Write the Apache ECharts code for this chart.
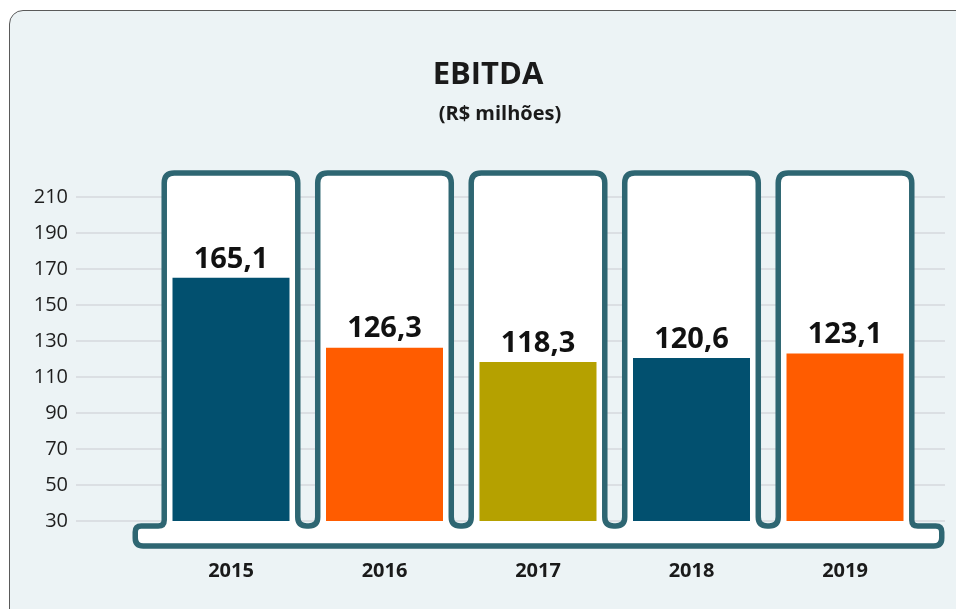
<!DOCTYPE html>
<html>
<head>
<meta charset="utf-8">
<script src="https://cdn.jsdelivr.net/npm/echarts@6/dist/echarts.min.js"></script>
<style>
  html, body { margin: 0; padding: 0; background: #fff; }
  .panel {
    position: absolute; left: 9px; top: 10px; width: 1000px; height: 700px;
    border: 1.5px solid #5a5a5a; border-radius: 14px; background: #ecf3f5;
  }
  #main { position: absolute; left: 0; top: 0; width: 956px; height: 609px; }
</style>
</head>
<body>
<div class="panel"></div>
<div id="main"></div>
<script>
// dados
const years = ['2015', '2016', '2017', '2018', '2019'];
const ebitda = [165.1, 126.3, 118.3, 120.6, 123.1];
const barColors = ['#02506f', '#ff5c00', '#b5a100', '#02506f', '#ff5c00'];
const yMin = 30, yMax = 210, yStep = 20;

const font = 'Open Sans';
const outline = '#2e6672';

// ponto a distancia r de (x,y) na direcao de p
function toward(x, y, p, r) {
  const dx = p[0] - x, dy = p[1] - y;
  const len = Math.sqrt(dx * dx + dy * dy) || 1;
  return [x + dx / len * r, y + dy / len * r];
}
// poligono com cantos arredondados
function roundedPath(pts) {
  const n = pts.length;
  let d = '';
  for (let i = 0; i < n; i++) {
    const [x, y, r] = pts[i];
    const a = toward(x, y, pts[(i - 1 + n) % n], r);
    const b = toward(x, y, pts[(i + 1) % n], r);
    d += (i === 0 ? 'M' : 'L') + a[0] + ' ' + a[1] + ' Q' + x + ' ' + y + ' ' + b[0] + ' ' + b[1] + ' ';
  }
  return d + 'Z';
}

// copos + base
function renderCups(params, api) {
  if (params.dataIndex !== 0) return;
  const cs = params.coordSys;
  const band = api.size([1, 0])[0];
  const half = band * 0.435;
  const top = cs.y - 24;
  const yT = cs.y + cs.height + 5;
  const yB = cs.y + cs.height + 25;
  const x0 = cs.x - 19, x1 = cs.x + cs.width + 20;
  const pts = [[x0, yT, 6]];
  years.forEach((y, i) => {
    const cx = api.coord([i, yMin])[0];
    const L = cx - half, R = cx + half;
    pts.push([L, yT, i === 0 ? 6 : 9]);
    pts.push([L, top, 10]);
    pts.push([R, top, 10]);
    pts.push([R, yT, i === years.length - 1 ? 6 : 9]);
  });
  pts.push([x1, yT, 6], [x1, yB, 8], [x0, yB, 8]);
  return {
    type: 'path',
    shape: { pathData: roundedPath(pts) },
    style: { fill: '#fff', stroke: outline, lineWidth: 5.5 },
  };
}

const option = {
  animation: false,
  title: [
    {
      text: 'EBITDA', left: 483, top: 55, textAlign: 'center',
      textStyle: { fontFamily: font, fontSize: 31, fontWeight: 'bold', color: '#1a1a1a' },
    },
    {
      text: '(R$ milhões)', left: 495, top: 99, textAlign: 'center',
      textStyle: { fontFamily: font, fontSize: 20, fontWeight: 'bold', color: '#1a1a1a' },
    },
  ],
  grid: [
    { left: 76, right: 11, top: 197, bottom: 88 },        // linhas de grade
    { left: 154.25, right: 34.25, top: 197, bottom: 88 }, // barras
  ],
  xAxis: [
    { gridIndex: 0, type: 'value', show: false },
    {
      gridIndex: 1, type: 'category', data: years,
      axisLine: { show: false }, axisTick: { show: false },
      axisLabel: { margin: 40, fontFamily: font, fontSize: 20, fontWeight: 'bold', color: '#1a1a1a' },
    },
  ],
  yAxis: [
    {
      gridIndex: 0, type: 'value', min: yMin, max: yMax, interval: yStep,
      axisLine: { show: false }, axisTick: { show: false },
      axisLabel: { margin: 8, fontFamily: font, fontSize: 20, color: '#1e1e1e' },
      splitLine: { lineStyle: { color: '#d6d8dc', width: 1.5 } },
    },
    { gridIndex: 1, type: 'value', min: yMin, max: yMax, interval: yStep, show: false },
  ],
  series: [
    {
      type: 'custom', xAxisIndex: 1, yAxisIndex: 1, z: 1, silent: true,
      data: [[0, yMin]],
      renderItem: renderCups,
    },
    {
      type: 'bar', xAxisIndex: 1, yAxisIndex: 1, z: 2, barWidth: 117,
      data: ebitda.map((v, i) => ({ value: v, itemStyle: { color: barColors[i] } })),
      label: {
        show: true, position: 'top', distance: 4,
        formatter: p => String(p.value).replace('.', ','),
        fontFamily: font, fontSize: 29, fontWeight: 'bold', color: '#111',
      },
    },
  ],
};

const myChart = echarts.init(document.getElementById('main'), null, { renderer: 'canvas' });
myChart.setOption(option);
</script>
</body>
</html>
